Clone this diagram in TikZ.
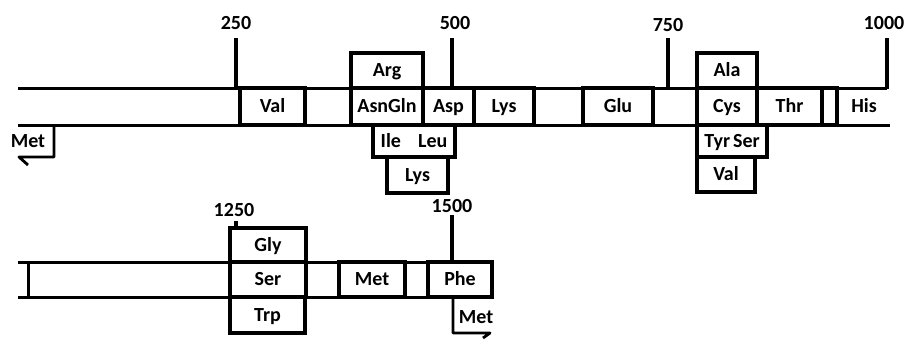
\documentclass[tikz,border=0pt]{standalone}
\usepackage{fontspec}
\setmainfont{Carlito}
\newcommand\mycell[7][]{%
  \pgfmathsetmacro\mycw{#5-#3}\pgfmathsetmacro\mych{#6-#4}%
  \pgfmathsetmacro\mycx{(#3+#5)/2}\pgfmathsetmacro\mycy{(#4+#6)/2}%
  \node[cellbox,#1, minimum width=\mycw pt, minimum height=\mych pt] (#2) at (\mycx,\mycy) {#7};}
\begin{document}
\begin{tikzpicture}[x=1pt,y=-1pt,
  txt/.style={font=\bfseries\fontsize{20}{21}\selectfont, text height=12.5pt, text depth=0pt},
  cellbox/.style={draw, line width=3.2pt, inner sep=0pt, txt},
  lbl/.style={inner sep=0pt, txt},
  rail/.style={line width=3pt},
  tickmark/.style={line width=4.5pt},
  halfarrow/.style={line width=2.8pt, line join=round},
  ]
\useasboundingbox[fill=white] (0,0) rectangle (909,340);
% ---------- top row rails
\draw[rail] (18,88) -- (887,88);
\draw[rail] (18,125) -- (890,125);
% ticks top row
\draw[tickmark] (236,38) -- (236,89);
\draw[tickmark] (452,38) -- (452,89);
\draw[tickmark] (668,38) -- (668,89);
\draw[tickmark] (887,38) -- (887,89);
\node[lbl] (n250) at (236,23) {250};
\node[lbl] (n500) at (455,23) {500};
\node[lbl] (n750) at (668,25) {750};
\node[lbl] (n1000) at (884,23) {1000};
% top row cells
\mycell{val}{240}{88}{305}{125}{Val}
\mycell{asngln}{351}{88}{423}{125}{AsnGln}
\mycell{arg}{351}{53}{423}{88}{Arg}
\mycell{asp}{423}{88}{474}{125}{Asp}
\mycell{lysA}{474}{88}{534}{125}{Lys}
\mycell{glu}{583}{88}{653}{125}{Glu}
\mycell{cys}{697}{88}{757}{125}{Cys}
\mycell{ala}{697}{53}{757}{88}{Ala}
\mycell{thr}{757}{88}{822}{125}{Thr}
\mycell{gap}{822}{88}{837}{125}{}
\node[lbl] (his) at (864,106.5) {His};
\mycell{ileleu}{373}{125}{455}{157}{Ile\hspace{17pt}Leu}
\mycell{lysB}{387}{157}{448}{193}{Lys}
\mycell{tyrser}{697}{125}{767}{157}{Tyr\hspace{3pt}Ser}
\mycell{valB}{697}{157}{755}{192}{Val}
% Met start (left)
\node[lbl] (metL) at (28,141) {Met};
\coordinate (metLtip) at (19,157);
\draw[halfarrow] (54,125) -- (54,157) -- (metLtip) -- (28,165);
% ---------- bottom row rails
\draw[rail] (18,262) -- (492,262);
\draw[rail] (18,297) -- (492,297);
\draw[rail] (28,262) -- (28,297);
\draw[tickmark] (236,221) -- (236,229);
\draw[tickmark] (452,215) -- (452,263);
\node[lbl] (n1250) at (234,210) {1250};
\node[lbl] (n1500) at (452,206) {1500};
\mycell{gly}{230}{228}{306}{262}{Gly}
\mycell{ser}{230}{262}{306}{297}{Ser}
\mycell{trp}{230}{297}{305}{333}{Trp}
\mycell{metB}{339}{262}{405}{297}{Met}
\mycell{phe}{428}{262}{492}{297}{Phe}
% Met start (bottom)
\node[lbl] (metR) at (476,317) {Met};
\coordinate (metRtip) at (490,333);
\draw[halfarrow] (453,297) -- (453,333) -- (metRtip) -- (483,338);
\end{tikzpicture}
\end{document}
